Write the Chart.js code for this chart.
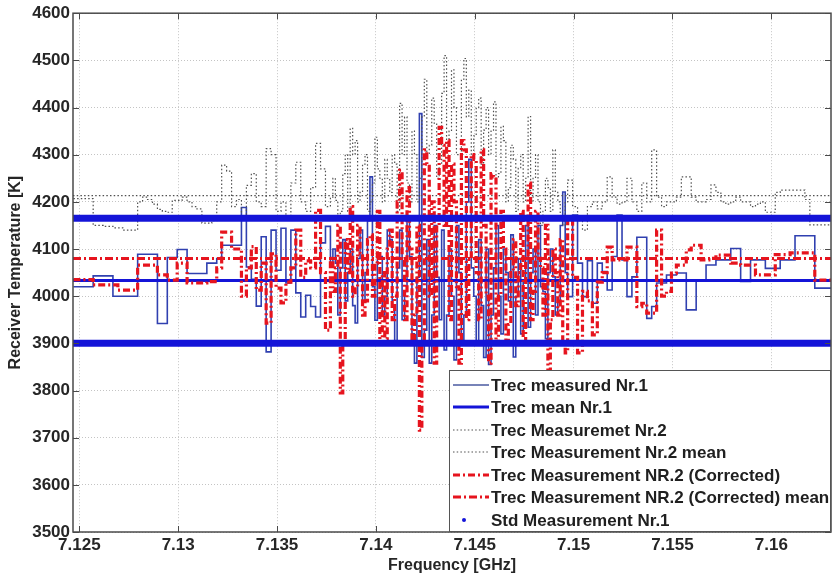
<!DOCTYPE html>
<html><head><meta charset="utf-8">
<script src="https://cdn.jsdelivr.net/npm/chart.js@4.4.1/dist/chart.umd.min.js"></script>
<style>html,body{margin:0;padding:0;background:#fff}#wrap{width:833px;height:575px;position:relative}</style>
</head><body><div id="wrap"><canvas id="c" width="833" height="575"></canvas></div>
<script>
// ---- data ----
const freqStartGHz = 7.1247;   // first sample of the coarse frequency grid
const freqStepGHz = 0.00025;   // coarse grid spacing (0.25 MHz)
const midFirstIndex = 52;      // dense centre: extra samples half-way between coarse samples 52..99
const trecNr1 = [
4020,4020,4020,4020,4043,4043,4043,4043,4000,4000,
4000,4000,4000,4089,4089,4089,4089,3942,3942,4082,
4082,4099,4099,4048,4048,4048,4048,4070,4070,4080,
4108,4108,4108,4108,4188,4062,4036,3979,4126,3882,
4140,4055,4144,4028,4140,4007,3956,4002,3978,3956,
4113,4148,4070,4070,4060,3990,4100,3943,4140,4050,
4253,3949,4084,4000,4120,3900,4140,4010,4084,3858,
4387,3928,3858,4150,3950,3886,4100,3865,4050,3960,
4290,4000,4120,3870,3855,4060,4000,4100,3990,3871,
4080,4030,3934,4100,4150,4010,4050,4041,3990,4221,
3999,4172,4070,3999,4075,3985,4070,4052,4013,4084,
4172,4077,3999,4041,4125,4125,3953,3978,4028,4028,
4045,4045,4049,4049,3971,3971,4034,4034,4066,4066,
4077,4077,4077,4101,4101,4031,4031,4077,4077,4077,
4059,4059,4059,4077,4077,4077,4128,4128,4128,4128,
4017,4017,4017,4017,4017];
const trecNr1Mid = [
4100,3960,4120,4050,3980,4080,3990,4160,4020,4090,
3960,4140,3980,4060,3950,4160,3920,4040,3870,4120,
3960,4040,4140,3960,4000,4150,3900,4200,4060,3900,
3980,4100,3960,4150,3920,4050,4130,4000,3920,4150,
4050,3960,4020,3910,4100,3960,4150,4050];
const trecNr2 = [
4207,4207,4207,4207,4150,4150,4148,4148,4145,4145,
4140,4140,4140,4200,4210,4205,4195,4184,4180,4178,
4203,4203,4210,4200,4190,4185,4155,4155,4160,4200,
4278,4265,4190,4205,4170,4235,4260,4200,4190,4313,
4300,4180,4200,4170,4240,4284,4200,4180,4230,4324,
4270,4190,4210,4203,4180,4300,4356,4330,4220,4300,
4200,4337,4250,4290,4220,4280,4409,4380,4200,4300,
4250,4460,4320,4367,4280,4510,4350,4400,4300,4504,
4437,4340,4420,4352,4300,4412,4260,4330,4230,4290,
4271,4200,4381,4250,4200,4180,4230,4310,4200,4150,
4246,4190,4160,4140,4190,4200,4185,4200,4253,4210,
4195,4200,4250,4200,4180,4240,4200,4310,4210,4190,
4200,4200,4210,4253,4253,4210,4200,4200,4205,4236,
4220,4200,4195,4200,4210,4200,4200,4190,4195,4200,
4178,4178,4220,4225,4225,4225,4225,4225,4205,4151,
4151,4151,4151,4151,4151];
const trecNr2Mid = [
4250,4170,4260,4180,4300,4200,4280,4180,4240,4270,
4200,4250,4300,4180,4300,4240,4350,4200,4380,4300,
4420,4250,4430,4320,4480,4300,4460,4380,4300,4400,
4280,4400,4350,4250,4360,4200,4320,4180,4300,4250,
4200,4300,4150,4250,4180,4220,4170,4200];
const trecNr2Corr = [
4035,4035,4035,4035,4024,4024,4024,4024,4024,4013,
4013,4013,4013,4066,4066,4066,4066,4045,4045,4034,
4034,4070,4070,4028,4028,4028,4028,4031,4031,4060,
4136,4136,4100,4100,4000,4060,4105,4013,4070,3943,
4090,4017,3986,4030,4060,4140,4040,4075,4060,4182,
4050,3928,4080,4060,3795,4120,4190,4020,4090,3990,
4130,4070,3900,3910,4140,4000,4267,3950,4100,3960,
3716,4310,4000,3858,4358,4150,3950,4200,3858,4310,
4080,4290,3950,4150,3858,4253,4000,4100,3940,4120,
4050,3900,4240,4010,4080,3960,3843,4100,3960,3900,
4168,4040,3880,4010,3990,3918,4030,4050,4104,4077,
4077,4077,4104,4104,3978,3985,3964,3964,4140,4000,
4010,4049,4066,4066,4098,4108,4108,4077,4077,4080,
4087,4087,4087,4070,4070,4066,4066,4066,4045,4045,
4045,4045,4088,4088,4088,4092,4092,4092,4092,4092,
4034,4034,4034,4034,4034];
const trecNr2CorrMid = [
4010,4150,3900,4050,4000,4150,3960,4120,4000,4180,
4050,4100,3950,4200,4080,4230,3900,4150,3900,4280,
4200,4150,4320,4330,4280,4020,4330,3950,4300,4050,
4310,4000,4260,3900,4180,3900,4050,3980,4180,4080,
3950,4180,4060,4150,3950,4050,4120,3880];
const meanNr1 = 4033;
const meanNr2 = 4213;
const meanNr2Corr = 4080;
const stdUpperNr1 = 4165;
const stdLowerNr1 = 3900;
const xTickValues = [7.125, 7.13, 7.135, 7.14, 7.145, 7.15, 7.155, 7.16];
const xTickLabels = ['7.125', '7.13', '7.135', '7.14', '7.145', '7.15', '7.155', '7.16'];
const yTickValues = [3500, 3600, 3700, 3800, 3900, 4000, 4100, 4200, 4300, 4400, 4500, 4600];
const seriesLabels = [
  'Trec measured Nr.1',
  'Trec mean Nr.1',
  'Trec Measuremet Nr.2',
  'Trec Measurement Nr.2 mean',
  'Trec Measurement NR.2 (Corrected)',
  'Trec Measurement NR.2 (Corrected) mean',
  'Std Measurement Nr.1'
];
const xAxisTitle = 'Frequency [GHz]';
const yAxisTitle = 'Receiver Temperature [K]';

// ---- build ----
const X_MIN = 7.12468, X_MAX = 7.16302;
function toPts(coarse, mid) {
  const pts = [];
  coarse.forEach((v, i) => {
    pts.push({ x: freqStartGHz + i * freqStepGHz, y: v });
    const j = i - midFirstIndex;
    if (j >= 0 && j < mid.length) pts.push({ x: freqStartGHz + (i + 0.5) * freqStepGHz, y: mid[j] });
  });
  return pts;
}
const flat = v => [{ x: X_MIN, y: v }, { x: X_MAX, y: v }];
const FONT = '"Liberation Sans", Arial, Helvetica, sans-serif';

const C_BLUE_THIN = '#3040b0';
const C_BLUE = '#1414d8';
const C_GRAY = '#505050';
const C_RED = '#e6141e';

const datasets = [
  { label: seriesLabels[0], data: toPts(trecNr1, trecNr1Mid), borderColor: C_BLUE_THIN, borderWidth: 1.6, stepped: 'before', order: 7 },
  { label: seriesLabels[1], data: flat(meanNr1), borderColor: C_BLUE, borderWidth: 3, order: 6 },
  { label: seriesLabels[2], data: toPts(trecNr2, trecNr2Mid), borderColor: C_GRAY, borderWidth: 1.2, borderDash: [1.5, 2.2], stepped: 'before', order: 5 },
  { label: seriesLabels[3], data: flat(meanNr2), borderColor: C_GRAY, borderWidth: 1.2, borderDash: [1.5, 2.2], order: 4 },
  { label: seriesLabels[4], data: toPts(trecNr2Corr, trecNr2CorrMid), borderColor: C_RED, borderWidth: 3.2, borderDash: [7, 3, 2, 3], stepped: 'before', order: 3 },
  { label: seriesLabels[5], data: flat(meanNr2Corr), borderColor: C_RED, borderWidth: 3, borderDash: [8, 3, 2, 3], order: 2 },
  { label: seriesLabels[6], data: flat(stdUpperNr1), borderColor: C_BLUE, borderWidth: 7, order: 1 },
  { label: seriesLabels[6] + ' (lower)', data: flat(stdLowerNr1), borderColor: C_BLUE, borderWidth: 7, order: 1 }
];
datasets.forEach(d => { d.pointRadius = 0; d.fill = false; d.tension = 0; d.borderCapStyle = 'butt'; });

const boxPlugin = {
  id: 'boxTicks',
  afterDatasetsDraw(chart) {
    const { ctx, chartArea: a, scales: { x, y } } = chart;
    ctx.save();
    ctx.strokeStyle = '#4a4a4a';
    ctx.lineWidth = 1;
    const ln = (x1, y1, x2, y2) => { ctx.beginPath(); ctx.moveTo(x1, y1); ctx.lineTo(x2, y2); ctx.stroke(); };
    xTickValues.forEach(v => { const p = Math.round(x.getPixelForValue(v)) + 0.5; ln(p, a.bottom, p, a.bottom - 6); ln(p, a.top, p, a.top + 6); });
    yTickValues.forEach(v => { const p = Math.round(y.getPixelForValue(v)) + 0.5; ln(a.left, p, a.left + 6, p); ln(a.right, p, a.right - 6, p); });
    ctx.lineWidth = 1.5;
    ctx.strokeRect(a.left, a.top, a.right - a.left, a.bottom - a.top);
    ctx.restore();
  }
};

const legendPlugin = {
  id: 'customLegend',
  afterDraw(chart) {
    const { ctx, chartArea: a } = chart;
    const bx = 449, by = 370, bw = a.right - 449, bh = a.bottom - 370;
    ctx.save();
    ctx.fillStyle = '#ffffff';
    ctx.fillRect(bx, by, bw, bh);
    ctx.strokeStyle = '#555555';
    ctx.lineWidth = 1;
    ctx.strokeRect(bx + 0.5, by + 0.5, bw - 1, bh - 1);
    const rowY = [385, 407, 430, 452, 475, 497, 520];
    ctx.font = 'bold 17px ' + FONT;
    ctx.textBaseline = 'middle';
    ctx.fillStyle = '#202020';
    seriesLabels.forEach((lab, i) => {
      const ds = chart.data.datasets[i];
      const yy = rowY[i];
      ctx.save();
      if (i === 6) {
        ctx.fillStyle = C_BLUE;
        ctx.beginPath(); ctx.arc(464, yy, 2, 0, Math.PI * 2); ctx.fill();
      } else {
        ctx.strokeStyle = i === 0 ? '#4a5aa0' : ds.borderColor;
        ctx.lineWidth = i === 0 ? 1.5 : (i === 1 ? 3 : ds.borderWidth);
        ctx.setLineDash(ds.borderDash || []);
        ctx.beginPath(); ctx.moveTo(453, yy); ctx.lineTo(489, yy); ctx.stroke();
      }
      ctx.restore();
      ctx.fillText(lab, 491, yy + 1);
    });
    ctx.restore();
  }
};

new Chart(document.getElementById('c'), {
  type: 'line',
  data: { datasets },
  options: {
    responsive: false,
    animation: false,
    devicePixelRatio: 1,
    events: [],
    layout: { padding: { left: 0, right: 2, top: 13, bottom: 0 } },
    plugins: { legend: { display: false }, tooltip: { enabled: false } },
    scales: {
      x: {
        type: 'linear', min: X_MIN, max: X_MAX,
        afterBuildTicks: s => { s.ticks = xTickValues.map(v => ({ value: v })); },
        afterFit: s => { s.height = 43; },
        ticks: {
          autoSkip: false, maxRotation: 0, padding: 3, color: '#262626',
          font: { family: FONT, size: 17, weight: 'bold' },
          callback: v => { const i = xTickValues.findIndex(t => Math.abs(t - v) < 1e-9); return i >= 0 ? xTickLabels[i] : ''; }
        },
        grid: { color: '#c4c4c4', lineWidth: 1, drawTicks: false },
        border: { display: false, dash: [1, 2] },
        title: { display: true, text: xAxisTitle, color: '#262626', font: { family: FONT, size: 16, weight: 'bold' }, padding: { top: 0, bottom: 0 } }
      },
      y: {
        type: 'linear', min: 3500, max: 4600,
        afterBuildTicks: s => { s.ticks = yTickValues.map(v => ({ value: v })); },
        afterFit: s => { s.width = 73; },
        ticks: {
          padding: 3, color: '#262626',
          font: { family: FONT, size: 17, weight: 'bold' },
          callback: v => String(v)
        },
        grid: { color: '#c4c4c4', lineWidth: 1, drawTicks: false },
        border: { display: false, dash: [1, 2] },
        title: { display: true, text: yAxisTitle, color: '#262626', font: { family: FONT, size: 16, weight: 'bold' }, padding: { top: 6, bottom: 0 } }
      }
    }
  },
  plugins: [boxPlugin, legendPlugin]
});
</script>
</body></html>
